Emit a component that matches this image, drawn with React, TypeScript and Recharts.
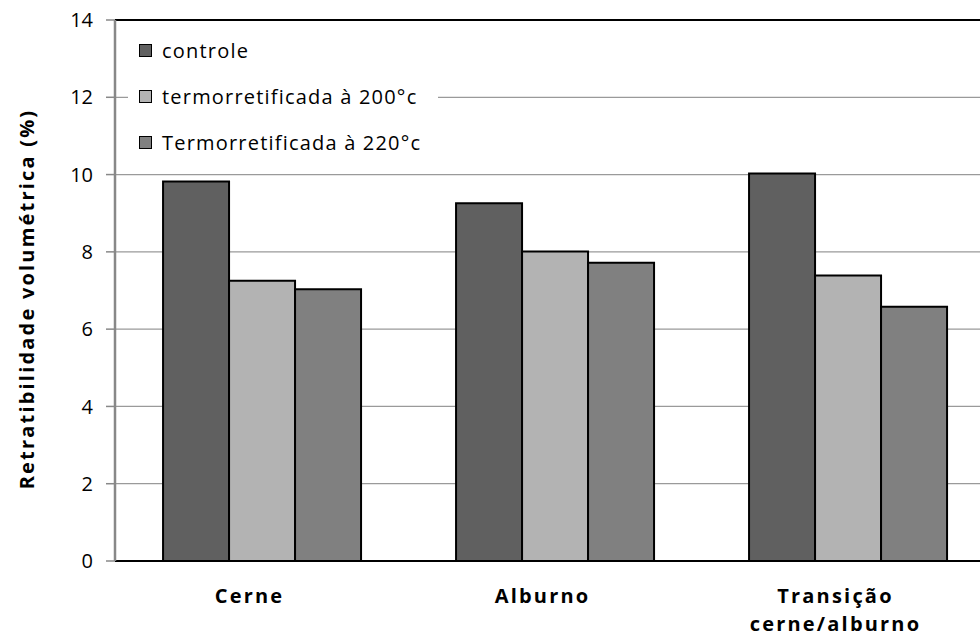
import React from 'react';
import { BarChart, Bar, XAxis, YAxis, CartesianGrid, Legend, ReferenceLine, Label } from 'recharts';

const categories = ['Cerne', 'Alburno', 'Transição\ncerne/alburno'];
const controle = [9.82, 9.26, 10.03];
const termo200 = [7.25, 8.01, 7.39];
const termo220 = [7.03, 7.72, 6.58];
const yTicks = [0, 2, 4, 6, 8, 10, 12, 14];

const seriesNames = ['controle', 'termorretificada à 200°c', 'Termorretificada à 220°c'];
const seriesKeys = ['controle', 'termo200', 'termo220'];
const seriesColors = ['#606060', '#b3b3b3', '#808080'];

const data = categories.map((c, i) => ({
  name: c,
  controle: controle[i],
  termo200: termo200[i],
  termo220: termo220[i],
}));

const FONT = '"Open Sans", "Liberation Sans", sans-serif';

const XTick = (props: any) => {
  const { x, y, payload } = props;
  const lines = String(payload.value).split('\n');
  return (
    <g>
      {lines.map((l, i) => (
        <text
          key={i}
          x={x - 12}
          y={y + 42 + i * 28}
          textAnchor="middle"
          fontFamily={FONT}
          fontWeight={700}
          fontSize={20}
          letterSpacing={2.2}
          fill="#000"
        >
          {l}
        </text>
      ))}
    </g>
  );
};

const LegendContent = () => (
  <div style={{ background: '#fff', width: '100%', height: '100%', position: 'relative' }}>
    {seriesNames.map((n, i) => (
      <div
        key={n}
        style={{
          position: 'absolute',
          left: 11,
          top: 22 + i * 46 - 13,
          height: 26,
          display: 'flex',
          alignItems: 'center',
          fontFamily: FONT,
          fontSize: 20,
          letterSpacing: 1.2,
          color: '#000',
          whiteSpace: 'nowrap',
        }}
      >
        <span
          style={{
            display: 'inline-block',
            width: 11,
            height: 11,
            background: seriesColors[i],
            border: '1px solid #000',
            marginRight: 10,
          }}
        />
        {n}
      </div>
    ))}
  </div>
);

export default function App() {
  return (
    <div style={{ position: 'absolute', left: 0, top: 0, width: 980, height: 642, overflow: 'hidden', background: '#fff' }}>
      <BarChart
        width={1010}
        height={642}
        data={data}
        margin={{ top: 20, right: 16, bottom: 31, left: 0 }}
        barCategoryGap="16.4%"
        barGap={0}
      >
        <CartesianGrid vertical={false} stroke="#9a9a9a" strokeWidth={1.3} />
        <XAxis
          dataKey="name"
          height={50}
          tickLine={false}
          tickSize={0}
          tickMargin={0}
          axisLine={{ stroke: '#000', strokeWidth: 2 }}
          tick={<XTick />}
          interval={0}
        />
        <YAxis
          width={115}
          domain={[0, 14]}
          ticks={yTicks}
          interval={0}
          tickSize={9}
          tickMargin={13}
          tickLine={{ stroke: '#888', strokeWidth: 1.5 }}
          axisLine={{ stroke: '#888', strokeWidth: 2.5 }}
          tick={{ fontFamily: FONT, fontSize: 20, fill: '#000' }}
        >
          <Label
            content={() => (
              <text
                x={34}
                y={299}
                transform="rotate(-90 34 299)"
                textAnchor="middle"
                fontFamily={FONT}
                fontWeight={700}
                fontSize={20}
                letterSpacing={2.2}
                fill="#000"
              >
                Retratibilidade volumétrica (%)
              </text>
            )}
          />
        </YAxis>
        <ReferenceLine y={14} stroke="#000" strokeWidth={2} />
        <Legend
          layout="vertical"
          verticalAlign="middle"
          align="center"
          content={<LegendContent />}
          wrapperStyle={{ position: 'absolute', left: 128, top: 28, width: 310, height: 136 }}
        />
        {seriesKeys.map((k, i) => (
          <Bar
            key={k}
            dataKey={k}
            name={seriesNames[i]}
            fill={seriesColors[i]}
            stroke="#000"
            strokeWidth={2}
            isAnimationActive={false}
          />
        ))}
      </BarChart>
    </div>
  );
}
